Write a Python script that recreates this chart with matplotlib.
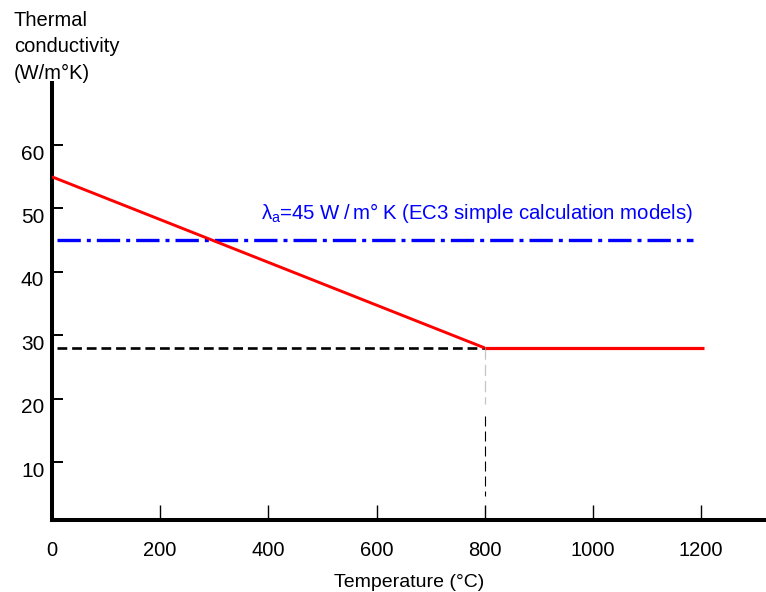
"""Thermal conductivity of steel vs temperature"""
import matplotlib
matplotlib.use('Agg')
import matplotlib.pyplot as plt
import matplotlib.transforms as mtransforms

plt.rcParams['font.family'] = ['Liberation Sans', 'DejaVu Sans']
plt.rcParams['mathtext.fontset'] = 'custom'
plt.rcParams['mathtext.rm'] = 'Liberation Sans'
plt.rcParams['mathtext.it'] = 'Liberation Sans'

# data
temp_pts = [0, 800, 1205]
lambda_pts = [55, 28, 28]
ec3_value = 45
ec3_temps = [10, 1185]
guide_value = 28
guide_temp = 800
guide_bottom = 4.7
x_ticks = [0, 200, 400, 600, 800, 1000, 1200]
y_ticks = [10, 20, 30, 40, 50, 60]

fig = plt.figure(figsize=(7.66, 5.92), dpi=100)
ax = fig.add_axes([52 / 766, 1 - 520 / 592, 1 - 52 / 766, (520 - 83) / 592])
ax.set_xlim(0, 1320)
ax.set_ylim(0.85, 69.8)

# model curve, slope thinner than plateau
ax.plot(temp_pts[:2], lambda_pts[:2], color='red', lw=2.1,
        solid_capstyle='butt', zorder=4)
ax.plot(temp_pts[1:], lambda_pts[1:], color='red', lw=2.3,
        solid_capstyle='butt', zorder=4)

# EC3 constant value
thin = '\u2009'
ec3_label = (r'$\lambda_{\rm a}$=45 W' + thin + '/' + thin + 'm°' + thin
             + 'K (EC3 simple calculation models)')
ax.plot(ec3_temps, [ec3_value, ec3_value], color='blue', lw=2.4,
        dashes=(7, 1.8, 1.2, 1.8), zorder=3)
ax.text(ec3_temps[1], 48.3, ec3_label, color='blue', fontsize=14.7,
        ha='right', va='baseline')

# guide lines at 800 C
ax.plot([10, guide_temp], [guide_value, guide_value], color='black', lw=1.9,
        dashes=(3.7, 1.85), zorder=2)
ax.plot([guide_temp, guide_temp], [guide_value, 19.2], color='#c4c4c4',
        lw=0.9, dashes=(9, 4), zorder=2)
ax.plot([guide_temp, guide_temp], [17.3, guide_bottom], color='black',
        lw=0.8, dashes=(9, 4.5), zorder=2)

for side in ['top', 'right']:
    ax.spines[side].set_visible(False)
for side in ['left', 'bottom']:
    ax.spines[side].set_linewidth(2.9)
    ax.spines[side].set_capstyle('projecting')

ax.set_xticks(x_ticks)
ax.set_xticklabels([str(t) for t in x_ticks])
ax.set_yticks(y_ticks)
ax.set_yticklabels([str(t) for t in y_ticks])
ax.tick_params(axis='x', direction='in', length=11, width=1.0, pad=15,
               labelsize=14.5)
ax.tick_params(axis='y', direction='in', length=8, width=1.4, pad=5.5,
               labelsize=15)

# y labels sit a bit below their ticks in the original
offset = mtransforms.ScaledTranslation(0, -0.07, fig.dpi_scale_trans)
for lab in ax.get_yticklabels():
    lab.set_transform(lab.get_transform() + offset)

ax.set_xlabel('Temperature (°C)', fontsize=14, labelpad=10)
fig.text(14 / 766, 1 - 11 / 592, 'Thermal\nconductivity\n(W/m°K)',
         fontsize=14.5, ha='left', va='top', linespacing=1.5)

fig.savefig('out.png', dpi=100)
